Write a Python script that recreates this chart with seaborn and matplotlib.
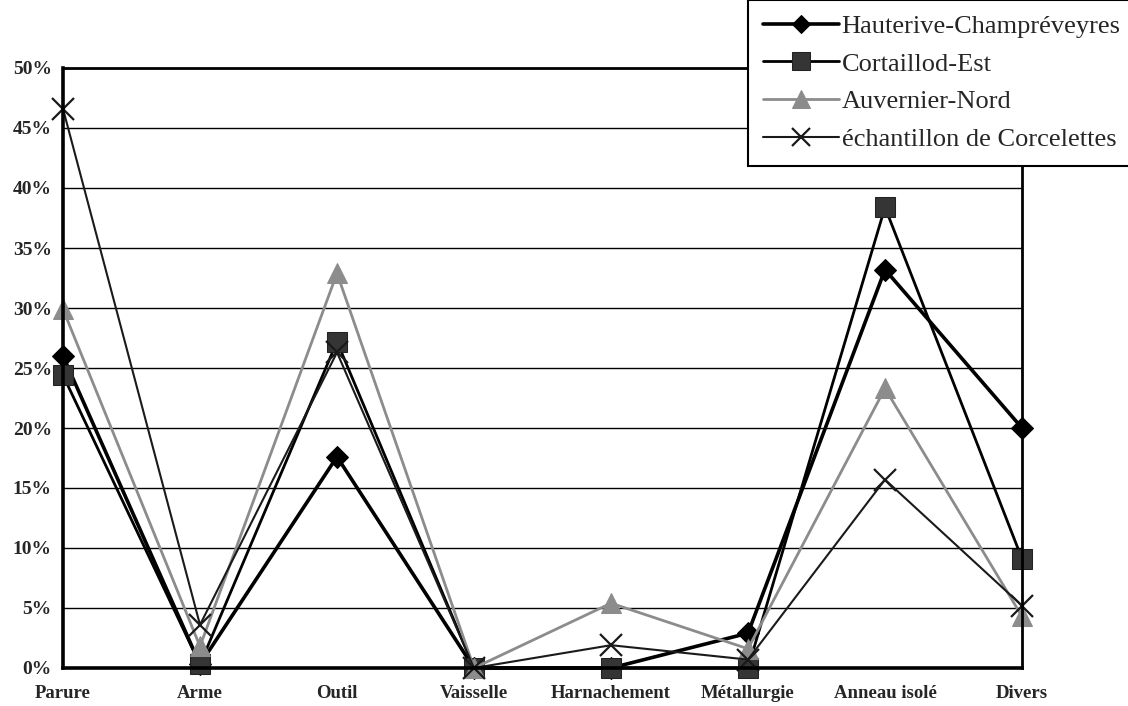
import numpy as np
import pandas as pd
import seaborn as sns
import matplotlib.pyplot as plt

categories = ["Parure", "Arme", "Outil", "Vaisselle", "Harnachement",
              "Métallurgie", "Anneau isolé", "Divers"]

hauterive = [26.0, 0.3, 17.6, 0.0, 0.0, 2.9, 33.2, 20.0]
cortaillod = [24.4, 0.3, 27.2, 0.0, 0.0, 0.0, 38.4, 9.1]
auvernier = [29.9, 1.8, 32.9, 0.0, 5.4, 1.6, 23.3, 4.3]
corcelettes = [46.6, 3.6, 26.3, 0.0, 1.9, 0.7, 15.7, 5.2]

series_names = ["Hauterive-Champréveyres", "Cortaillod-Est",
                "Auvernier-Nord", "échantillon de Corcelettes"]

sns.set_theme(style="white")
plt.rcParams['font.family'] = ['Liberation Serif', 'DejaVu Serif']

fig = plt.figure(figsize=(11.28, 7.06), dpi=100)
ax = fig.add_axes([63 / 1128, 1 - 668 / 706, (1022 - 63) / 1128, 600 / 706])

styles = [
    dict(color="black", marker="D", markersize=11, linewidth=2.6,
         markerfacecolor="black", markeredgecolor="black"),
    dict(color="black", marker="s", markersize=15, linewidth=2.0,
         markerfacecolor="#353535", markeredgecolor="#222222"),
    dict(color="#8c8c8c", marker="^", markersize=15, linewidth=2.0,
         markerfacecolor="#8c8c8c", markeredgecolor="#8c8c8c"),
    dict(color="#1a1a1a", marker="x", markersize=16, linewidth=1.5,
         markeredgewidth=1.6, markeredgecolor="#1a1a1a"),
]

x = np.arange(len(categories))
for name, vals, st in zip(series_names,
                          [hauterive, cortaillod, auvernier, corcelettes],
                          styles):
    sns.lineplot(x=x, y=vals, ax=ax, label=name, sort=False, clip_on=False, **st)

ax.set_xlim(0, len(categories) - 1)
ax.set_ylim(0, 50)
ax.set_xticks(x)
ax.set_xticklabels(categories, fontweight="bold", fontsize=13.5)
ax.set_yticks(np.arange(0, 51, 5))
ax.set_yticklabels([f"{v}%" for v in range(0, 51, 5)], fontweight="bold", fontsize=14)
ax.tick_params(axis="x", direction="out", length=6, width=1.5, color="black", pad=6)
ax.tick_params(axis="y", direction="out", length=5, width=1.5, color="black", pad=3)
ax.grid(axis="y", color="black", linewidth=1.0)
ax.grid(axis="x", visible=False)
ax.set_axisbelow(True)

for side, lw in [("left", 2.6), ("bottom", 2.6), ("top", 2.0), ("right", 2.0)]:
    ax.spines[side].set_visible(True)
    ax.spines[side].set_color("black")
    ax.spines[side].set_linewidth(lw)

leg = ax.legend(loc="upper left", bbox_to_anchor=(748 / 1128, 1.0),
                bbox_transform=fig.transFigure, frameon=True, fancybox=False,
                fontsize=19, handlelength=2.9, handletextpad=0.1,
                labelspacing=0.54, borderpad=0.55, markerscale=0.85,
                borderaxespad=0)
leg.get_frame().set_edgecolor("black")
leg.get_frame().set_linewidth(1.5)
leg.get_frame().set_alpha(1)
leg.set_zorder(10)

fig.savefig("out.png", dpi=100)
